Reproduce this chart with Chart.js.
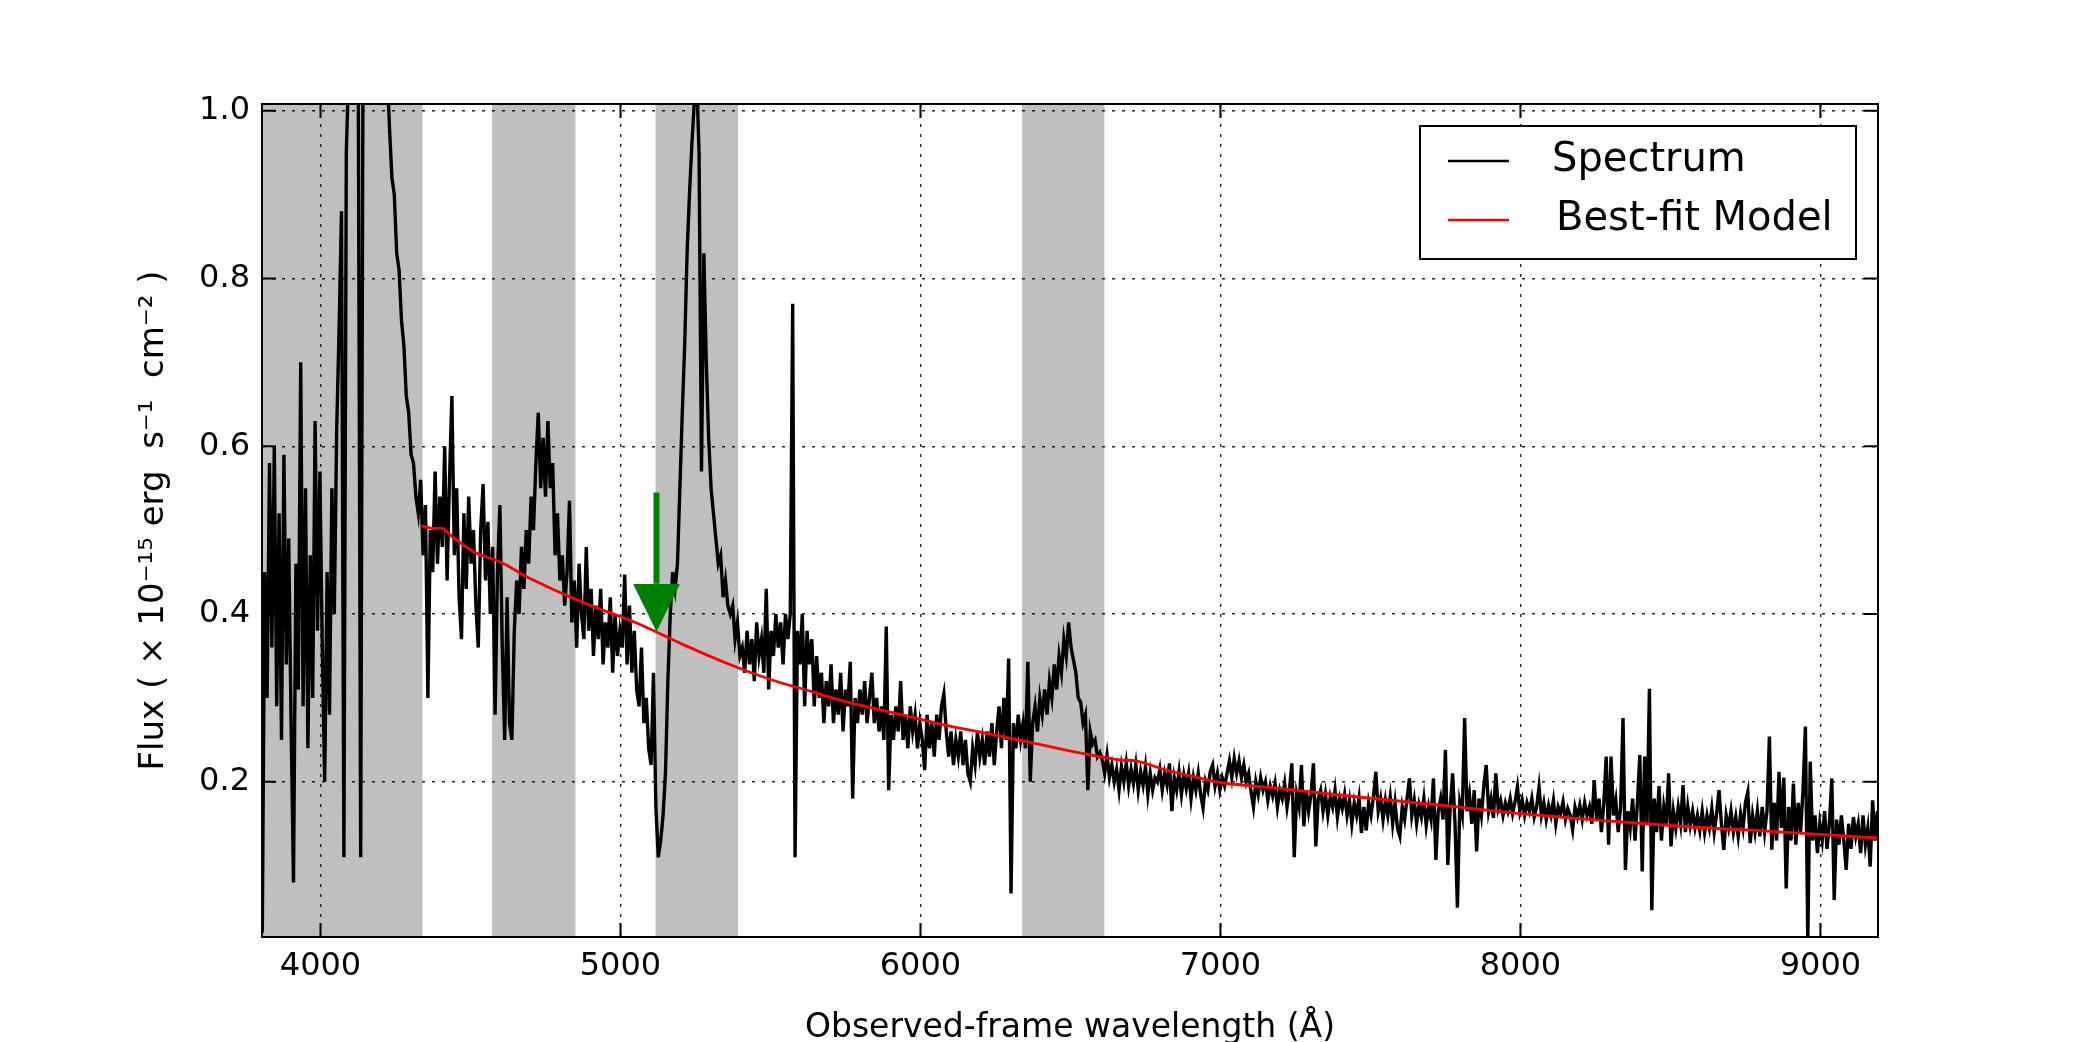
<!DOCTYPE html>
<html>
<head>
<meta charset="utf-8">
<script src="https://cdn.jsdelivr.net/npm/chart.js@4.4.1/dist/chart.umd.min.js"></script>
<style>
html, body { margin: 0; padding: 0; background: #fff; }
canvas { display: block; background: #fff; }
</style>
</head>
<body>
<canvas id="spectrumChart" width="2084" height="1042"></canvas>
<script>
/* observed spectrum, sampled every 8 A from 3806 A */
const waveStart = 3806;
const waveStep = 8;
const flux = [
  // 3806
  0.02,0.45,0.30,0.58,0.36,0.60,0.29,0.52,0.25,0.59,0.34,0.49,0.27,0.08,0.46,0.31,0.70,0.29,0.55,0.24,0.47,0.30,0.63,0.38,0.57,
  // 4006
  0.36,0.20,0.45,0.28,0.55,0.40,0.62,0.74,0.88,0.11,0.95,1.05,1.10,1.08,1.06,1.03,0.11,1.10,1.20,1.25,1.25,1.22,1.18,1.15,1.12,
  // 4206
  1.15,1.10,1.05,0.98,0.92,0.90,0.83,0.81,0.75,0.72,0.66,0.64,0.59,0.58,0.54,0.52,0.56,0.47,0.53,0.30,0.50,0.45,0.57,0.46,0.54,
  // 4406
  0.48,0.60,0.44,0.56,0.66,0.47,0.55,0.42,0.37,0.52,0.43,0.54,0.46,0.50,0.41,0.36,0.50,0.555,0.44,0.51,0.40,0.48,0.28,0.45,0.53,
  // 4606
  0.36,0.25,0.42,0.27,0.25,0.38,0.44,0.40,0.48,0.43,0.50,0.46,0.54,0.50,0.58,0.64,0.55,0.61,0.54,0.63,0.55,0.58,0.47,0.52,0.44,
  // 4806
  0.47,0.41,0.45,0.535,0.39,0.44,0.36,0.46,0.40,0.37,0.48,0.38,0.43,0.35,0.41,0.37,0.43,0.34,0.39,0.36,0.42,0.33,0.40,0.35,0.38,
  // 5006
  0.36,0.447,0.34,0.41,0.33,0.38,0.31,0.29,0.36,0.27,0.30,0.24,0.22,0.33,0.17,0.11,0.13,0.16,0.21,0.32,0.40,0.45,0.43,0.46,0.55,
  // 5206
  0.64,0.72,0.83,0.90,0.96,1.01,1.04,0.95,0.57,0.83,0.70,0.61,0.55,0.52,0.49,0.46,0.47,0.42,0.44,0.41,0.40,0.41,0.37,0.39,0.35,
  // 5406
  0.36,0.33,0.38,0.34,0.37,0.32,0.39,0.35,0.37,0.33,0.43,0.31,0.38,0.35,0.40,0.36,0.39,0.34,0.40,0.37,0.40,0.77,0.11,0.38,0.34,
  // 5606
  0.40,0.29,0.38,0.34,0.37,0.29,0.35,0.30,0.33,0.27,0.32,0.29,0.34,0.27,0.31,0.28,0.33,0.26,0.31,0.29,0.343,0.18,0.30,0.27,0.31,
  // 5806
  0.28,0.32,0.27,0.30,0.33,0.27,0.30,0.26,0.29,0.25,0.385,0.19,0.28,0.25,0.29,0.26,0.32,0.25,0.28,0.24,0.29,0.26,0.28,0.24,0.27,
  // 6006
  0.25,0.214,0.28,0.24,0.27,0.23,0.28,0.25,0.29,0.305,0.26,0.23,0.26,0.22,0.25,0.23,0.26,0.22,0.25,0.21,0.20,0.24,0.22,0.26,0.23,
  // 6206
  0.25,0.22,0.26,0.23,0.27,0.22,0.26,0.29,0.24,0.30,0.25,0.347,0.067,0.27,0.24,0.28,0.25,0.27,0.24,0.343,0.20,0.27,0.29,0.26,0.30,
  // 6406
  0.28,0.31,0.28,0.32,0.30,0.34,0.31,0.35,0.33,0.37,0.35,0.39,0.36,0.345,0.33,0.30,0.295,0.27,0.28,0.19,0.26,0.245,0.25,0.23,0.235,
  // 6606
  0.226,0.21,0.232,0.205,0.22,0.20,0.215,0.19,0.218,0.20,0.222,0.195,0.215,0.198,0.22,0.19,0.212,0.196,0.218,0.185,0.21,0.19,0.205,0.20,0.215,
  // 6806
  0.19,0.21,0.196,0.222,0.165,0.205,0.19,0.212,0.185,0.208,0.192,0.21,0.18,0.205,0.19,0.21,0.185,0.169,0.20,0.19,0.212,0.22,0.195,0.21,0.19,
  // 7006
  0.205,0.195,0.21,0.225,0.205,0.228,0.21,0.225,0.205,0.22,0.20,0.21,0.188,0.17,0.20,0.185,0.205,0.19,0.20,0.178,0.195,0.183,0.198,0.17,0.19,
  // 7206
  0.18,0.198,0.17,0.19,0.222,0.11,0.185,0.17,0.22,0.147,0.19,0.165,0.185,0.222,0.123,0.18,0.19,0.165,0.185,0.16,0.182,0.17,0.19,0.158,0.18,
  // 7406
  0.168,0.185,0.16,0.178,0.15,0.175,0.16,0.18,0.139,0.17,0.142,0.175,0.16,0.182,0.212,0.165,0.18,0.155,0.178,0.16,0.182,0.15,0.175,0.145,0.135,
  // 7606
  0.17,0.155,0.18,0.204,0.16,0.178,0.15,0.172,0.158,0.18,0.148,0.17,0.155,0.204,0.107,0.165,0.18,0.155,0.238,0.101,0.17,0.21,0.15,0.05,0.175,
  // 7806
  0.16,0.276,0.165,0.185,0.15,0.19,0.117,0.18,0.16,0.195,0.22,0.165,0.18,0.157,0.21,0.168,0.178,0.16,0.175,0.165,0.18,0.162,0.176,0.194,0.165,
  // 8006
  0.178,0.16,0.175,0.165,0.18,0.158,0.17,0.194,0.16,0.175,0.155,0.172,0.16,0.178,0.15,0.17,0.162,0.176,0.155,0.168,0.16,0.143,0.17,0.158,0.172,
  // 8206
  0.155,0.175,0.16,0.17,0.15,0.202,0.155,0.18,0.14,0.175,0.23,0.125,0.23,0.16,0.178,0.14,0.17,0.276,0.095,0.165,0.145,0.18,0.13,0.175,0.232,
  // 8406
  0.093,0.23,0.15,0.311,0.047,0.18,0.14,0.195,0.13,0.17,0.15,0.21,0.123,0.165,0.145,0.17,0.15,0.196,0.14,0.17,0.148,0.165,0.145,0.16,0.142,
  // 8606
  0.165,0.14,0.16,0.145,0.168,0.14,0.162,0.19,0.15,0.119,0.16,0.145,0.165,0.14,0.158,0.135,0.162,0.145,0.175,0.188,0.127,0.16,0.14,0.165,0.135,
  // 8806
  0.17,0.14,0.165,0.254,0.119,0.175,0.13,0.212,0.145,0.205,0.073,0.17,0.13,0.198,0.125,0.175,0.14,0.19,0.266,0.01,0.224,0.13,0.16,0.115,0.15,
  // 9006
  0.13,0.165,0.12,0.15,0.204,0.059,0.155,0.125,0.16,0.13,0.095,0.15,0.12,0.158,0.135,0.15,0.115,0.16,0.125,0.145,0.099,0.178,0.13,0.165
];

/* best-fit continuum model */
const modelWave = [4336, 4375, 4408, 4440, 4517, 4600, 4700, 4867, 5056, 5200, 5356, 5500, 5633, 5767, 5900, 6078,
                   6230, 6378, 6567, 6667, 6720, 6811, 6900, 6989, 7022, 7189, 7445, 7767, 8000, 8533, 8833, 9190];
const modelFlux = [0.505, 0.502, 0.502, 0.492, 0.473, 0.462, 0.442, 0.415, 0.389, 0.365, 0.341, 0.322, 0.308, 0.294, 0.283, 0.268,
                   0.257, 0.246, 0.232, 0.226, 0.225, 0.215, 0.207, 0.200, 0.198, 0.1925, 0.1825, 0.171, 0.162, 0.147, 0.141, 0.133];

/* masked (shaded) wavelength windows */
const maskStart = [3800, 4572, 5117, 6339];
const maskEnd = [4340, 4850, 5392, 6613];

/* green arrow: wavelength, tail, head base, tip */
const arrowWave = 5120;
const arrowTail = 0.545;
const arrowBase = 0.436;
const arrowTip = 0.379;

const xTicks = [4000, 5000, 6000, 7000, 8000, 9000];
const yTicks = [0.2, 0.4, 0.6, 0.8, 1.0];

const spectrumPoints = flux.map((f, i) => ({ x: waveStart + i * waveStep, y: f }));
const modelPoints = modelWave.map((w, i) => ({ x: w, y: modelFlux[i] }));

function arrowHead(w, h, color) {
  const c = document.createElement('canvas');
  c.width = w;
  c.height = h;
  const g = c.getContext('2d');
  g.fillStyle = color;
  g.beginPath();
  g.moveTo(0, 0);
  g.lineTo(w, 0);
  g.lineTo(w / 2, h);
  g.closePath();
  g.fill();
  return c;
}

const FONT = 'DejaVu Sans';

// grey mask windows, under the grid
const maskPlugin = {
  id: 'maskPlugin',
  beforeDraw(chart) {
    const { ctx, chartArea: a, scales: { x } } = chart;
    ctx.save();
    ctx.beginPath();
    ctx.rect(a.left, a.top, a.right - a.left, a.bottom - a.top);
    ctx.clip();
    ctx.fillStyle = 'rgba(128,128,128,0.5)';
    maskStart.forEach((s, i) => {
      const x0 = x.getPixelForValue(s);
      const x1 = x.getPixelForValue(maskEnd[i]);
      ctx.fillRect(x0, a.top, x1 - x0, a.bottom - a.top);
    });
    ctx.restore();
  }
};

// frame, inward ticks on all four sides, boxed legend
const framePlugin = {
  id: 'framePlugin',
  afterDraw(chart) {
    const { ctx, chartArea: a, scales: { x, y } } = chart;
    const tl = 14;
    ctx.save();
    ctx.strokeStyle = '#000';
    ctx.lineWidth = 2;
    ctx.beginPath();
    xTicks.forEach(v => {
      const px = x.getPixelForValue(v);
      ctx.moveTo(px, a.bottom); ctx.lineTo(px, a.bottom - tl);
      ctx.moveTo(px, a.top); ctx.lineTo(px, a.top + tl);
    });
    yTicks.forEach(v => {
      const py = y.getPixelForValue(v);
      ctx.moveTo(a.left, py); ctx.lineTo(a.left + tl, py);
      ctx.moveTo(a.right, py); ctx.lineTo(a.right - tl, py);
    });
    ctx.stroke();
    ctx.strokeRect(a.left, a.top, a.right - a.left, a.bottom - a.top);

    // legend
    const items = chart.data.datasets.filter(d => d.inLegend);
    const bw = 436, bh = 133;
    const bx = a.right - 22 - bw, by = a.top + 22;
    ctx.fillStyle = '#fff';
    ctx.fillRect(bx, by, bw, bh);
    ctx.strokeRect(bx, by, bw, bh);
    ctx.font = '40px "' + FONT + '"';
    ctx.textBaseline = 'middle';
    items.forEach((d, i) => {
      const ry = by + 35 + i * 59;
      ctx.strokeStyle = d.borderColor;
      ctx.lineWidth = 2.5;
      ctx.beginPath();
      ctx.moveTo(bx + 28, ry);
      ctx.lineTo(bx + 89, ry);
      ctx.stroke();
      ctx.fillStyle = '#000';
      ctx.fillText(d.label, bx + 132 + i * 4, ry);
    });
    ctx.restore();
  }
};

new Chart(document.getElementById('spectrumChart'), {
  type: 'line',
  data: {
    datasets: [
      {
        label: 'Spectrum',
        inLegend: true,
        data: spectrumPoints,
        borderColor: '#000000',
        borderWidth: 3.4,
        pointRadius: 0,
        tension: 0,
        clip: 0,
        order: 3
      },
      {
        label: 'Best-fit Model',
        inLegend: true,
        data: modelPoints,
        borderColor: '#ff0000',
        borderWidth: 2.8,
        pointRadius: 0,
        tension: 0.3,
        clip: 0,
        order: 2
      },
      {
        label: '',
        data: [{ x: arrowWave, y: arrowTail }, { x: arrowWave, y: arrowBase }],
        borderColor: '#008000',
        borderWidth: 6,
        pointRadius: 0,
        order: 1
      },
      {
        label: '',
        data: [{ x: arrowWave, y: (arrowBase + arrowTip) / 2 }],
        showLine: false,
        pointStyle: arrowHead(47, 48, '#008000'),
        pointRadius: 10,
        order: 0
      }
    ]
  },
  options: {
    responsive: false,
    animation: false,
    layout: { padding: { left: 120, right: 206, top: 104, bottom: 0 } },
    plugins: {
      legend: { display: false },
      tooltip: { enabled: false }
    },
    scales: {
      x: {
        type: 'linear',
        min: 3805,
        max: 9192,
        afterFit: s => { s.height = 105; },
        afterBuildTicks: s => { s.ticks = xTicks.map(v => ({ value: v })); },
        border: { display: false, dash: [3, 7] },
        grid: { color: 'rgba(0,0,0,0.85)', lineWidth: 1.4, drawTicks: false },
        ticks: {
          autoSkip: false,
          maxRotation: 0,
          padding: 10,
          color: '#000',
          font: { family: FONT, size: 32 },
          callback: v => String(v)
        },
        title: {
          display: true,
          text: 'Observed-frame wavelength (Å)',
          color: '#000',
          font: { family: FONT, size: 33, lineHeight: 1.0 },
          padding: { top: 0, bottom: -3 }
        }
      },
      y: {
        min: 0.015,
        max: 1.008,
        afterFit: s => { s.width = 142; },
        afterBuildTicks: s => { s.ticks = yTicks.map(v => ({ value: v })); },
        border: { display: false, dash: [3, 7] },
        grid: { color: 'rgba(0,0,0,0.85)', lineWidth: 1.4, drawTicks: false },
        ticks: {
          padding: 12,
          color: '#000',
          font: { family: FONT, size: 32 },
          callback: v => v.toFixed(1)
        },
        title: {
          display: true,
          text: 'Flux ( × 10⁻¹⁵ erg  s⁻¹  cm⁻² )',
          color: '#000',
          font: { family: FONT, size: 34 },
          padding: { top: 14, bottom: 0 }
        }
      }
    }
  },
  plugins: [maskPlugin, framePlugin]
});
</script>
</body>
</html>
